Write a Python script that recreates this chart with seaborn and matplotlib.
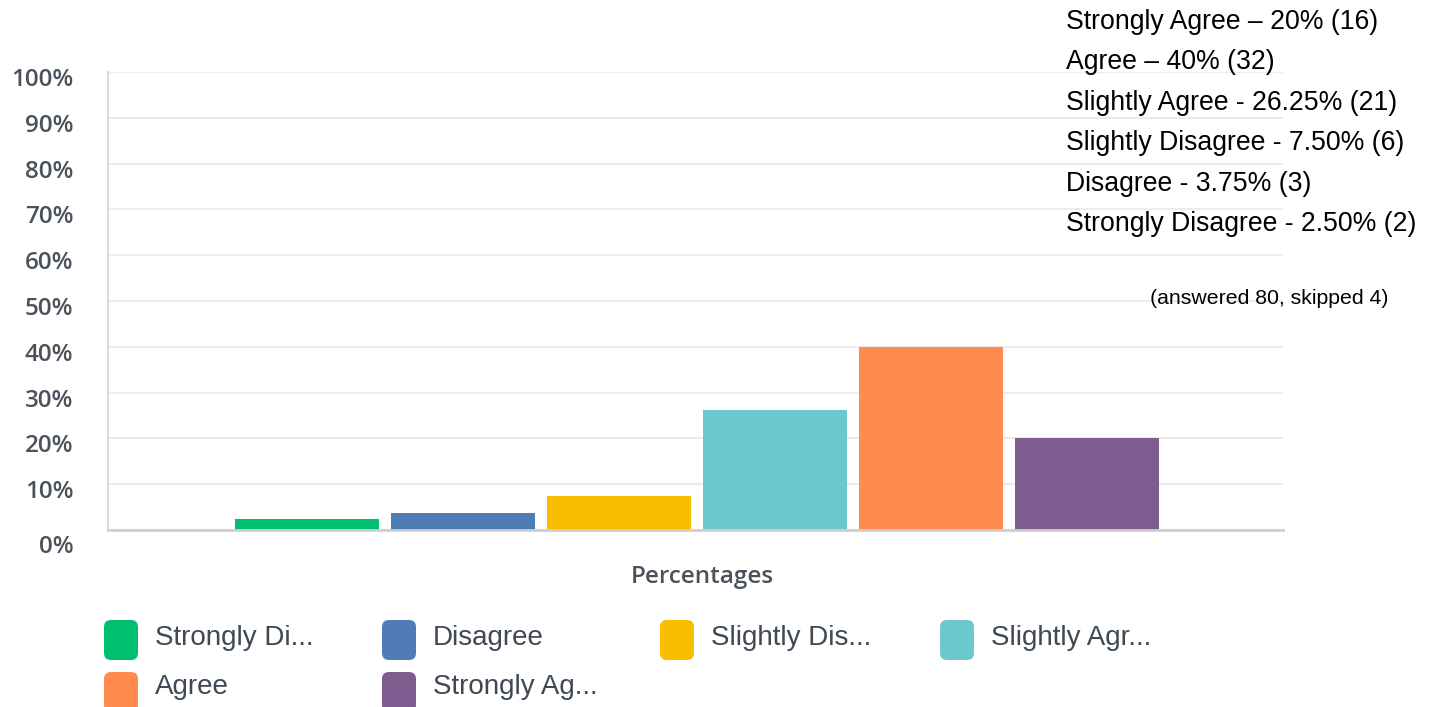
import matplotlib
matplotlib.use("Agg")
import matplotlib.pyplot as plt
from matplotlib.patches import FancyBboxPatch
from matplotlib.ticker import FuncFormatter
import matplotlib.transforms as mtransforms
import seaborn as sns
import pandas as pd

# Survey responses
responses = ["Strongly Disagree", "Disagree", "Slightly Disagree",
             "Slightly Agree", "Agree", "Strongly Agree"]
legend_labels = ["Strongly Di...", "Disagree", "Slightly Dis...",
                 "Slightly Agr...", "Agree", "Strongly Ag..."]
counts = [2, 3, 6, 21, 32, 16]
answered = 80
skipped = 4
group_label = "Percentages"
colors = ["#00BF6F", "#507CB6", "#F9BE00", "#6BC8CD", "#FF8B4F", "#7F5C8F"]

summary_lines = [
    "Strongly Agree \u2013 20% (16)",
    "Agree \u2013 40% (32)",
    "Slightly Agree - 26.25% (21)",
    "Slightly Disagree - 7.50% (6)",
    "Disagree - 3.75% (3)",
    "Strongly Disagree - 2.50% (2)",
]
footnote = f"(answered {answered}, skipped {skipped})"

pct = [c / answered * 100 for c in counts]
df = pd.DataFrame({"group": [group_label] * len(responses),
                   "response": responses, "pct": pct})

sns.set_theme(style="white")
plt.rcParams["font.family"] = ["Open Sans", "DejaVu Sans"]

W, H = 1435, 707
fig = plt.figure(figsize=(W / 100, H / 100), dpi=100)
ax = fig.add_axes([108 / W, 1 - 530 / H, (1283 - 108) / W, (530 - 72) / H])

sns.barplot(data=df, x="group", y="pct", hue="response", hue_order=responses,
            palette=dict(zip(responses, colors)), width=0.8, gap=0.077,
            linewidth=0, saturation=1, legend=False, ax=ax)

ax.set_ylim(0, 100)
ax.set_xlim(-0.5034, 0.5009)
ax.set_yticks(range(0, 101, 10))
ax.yaxis.set_major_formatter(FuncFormatter(lambda v, _: f"{v:.0f}%"))
ax.grid(axis="y", color="#ececec", linewidth=1.5)
ax.set_axisbelow(True)
for side in ("top", "right"):
    ax.spines[side].set_visible(False)
ax.spines["left"].set_color("#d9d9d9")
ax.spines["left"].set_linewidth(1.5)
ax.spines["bottom"].set_color("#cfcfcf")
ax.spines["bottom"].set_linewidth(2)
ax.set_xlabel("")
ax.set_ylabel("")
ax.tick_params(axis="y", length=0, pad=25, labelsize=17.5, labelcolor="#4b525b")
ax.tick_params(axis="x", length=0, pad=25, labelsize=17.5, labelcolor="#4b525b")
for lab in ax.get_yticklabels() + ax.get_xticklabels():
    lab.set_fontweight("semibold")

# nudge y tick labels slightly below their gridlines
shift = mtransforms.ScaledTranslation(0, -5 / 100, fig.dpi_scale_trans)
for lab in ax.get_yticklabels():
    lab.set_transform(lab.get_transform() + shift)
zero_shift = mtransforms.ScaledTranslation(0, -9 / 100, fig.dpi_scale_trans)
zl = ax.get_yticklabels()[0]
zl.set_transform(zl.get_transform() + zero_shift)
xshift = mtransforms.ScaledTranslation(5 / 100, 0, fig.dpi_scale_trans)
for lab in ax.get_xticklabels():
    lab.set_transform(lab.get_transform() + xshift)


def fx(x):
    return x / W


def fy(y):
    return 1 - y / H


# summary text block
for i, line in enumerate(summary_lines):
    fig.text(fx(1066), fy(22 + i * 40.4), line, fontsize=19.2, color="black",
             family=["Liberation Sans", "DejaVu Sans"], va="center", ha="left")
fig.text(fx(1150), fy(298), footnote, fontsize=15.3, color="black",
         family=["Liberation Sans", "DejaVu Sans"], va="center", ha="left")

# legend with rounded swatches
col_x = [104, 382, 660, 940]
for i, (lab, col) in enumerate(zip(legend_labels, colors)):
    c, r = i % 4, i // 4
    x0 = col_x[c]
    top = 620 + r * 52
    sw = FancyBboxPatch((x0 / 100, (H - top - 40) / 100), 34 / 100, 40 / 100,
                        boxstyle="round,pad=0,rounding_size=0.07",
                        transform=fig.dpi_scale_trans, facecolor=col,
                        edgecolor="none")
    fig.add_artist(sw)
    fig.text(fx(x0 + 51), fy(645 + r * 49), lab, fontsize=20, color="#3f4853",
             family=["Liberation Sans", "DejaVu Sans"], va="baseline", ha="left")

fig.savefig("out.png", dpi=100)
